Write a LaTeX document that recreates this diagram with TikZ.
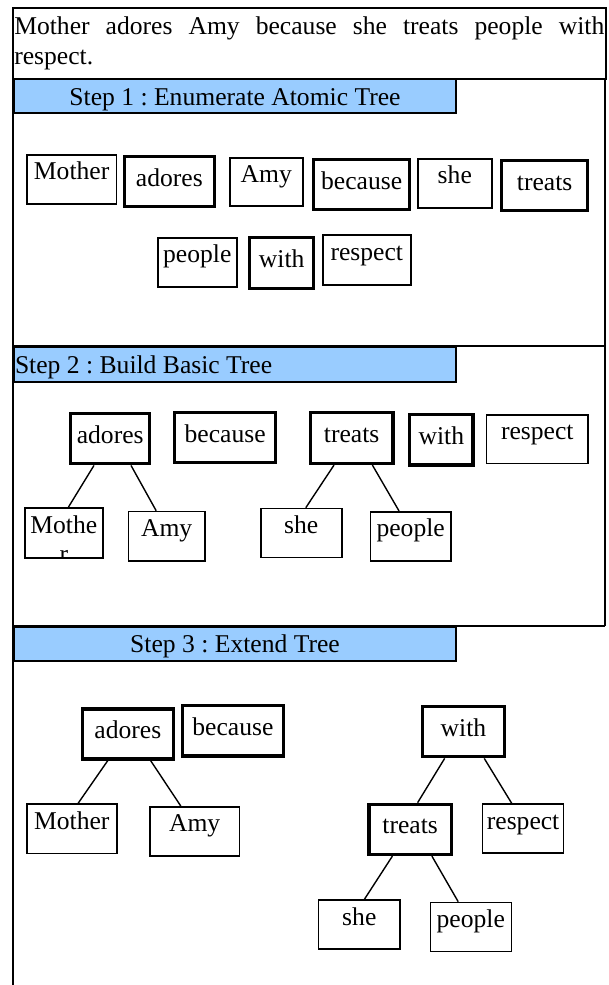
\documentclass[tikz,border=0pt]{standalone}
\usepackage{fontspec}
\setmainfont{Liberation Serif}
\definecolor{hdrblue}{RGB}{153,204,255}
\hyphenpenalty=10000
\tolerance=10000
\frenchspacing
\begin{document}
\begin{tikzpicture}[x=1pt,y=-1pt,
  font=\fontsize{25.6}{30}\selectfont,
  frame/.style={line width=1.6pt},
  hdr/.style={draw, line width=2pt, fill=hdrblue, anchor=north west, inner sep=0pt, text height=20pt, text depth=2pt},
  wbox/.style={draw, line width=1.6pt, anchor=north west, inner sep=0pt},
  tbox/.style={wbox, line width=3.4pt},
  mid/.style={text height=17pt, text depth=8pt},
  high/.style={text height=17pt, text depth=16pt},
  sz/.style 2 args={minimum width=#1pt, minimum height=#2pt},
  edge/.style={line width=1.4pt}]
\useasboundingbox (0,0) rectangle (608,985);

% sentence box
\node[draw, frame, anchor=north west, inner xsep=1.5pt, inner ysep=0pt,
      text width=590pt, align=justify, minimum height=71pt] (sent) at (12,7)
  {Mother adores Amy because she treats people with respect.};

% section frames
\draw[frame] (13,78) -- (13,985);
\draw[frame] (605,78) -- (605,626);
\draw[frame] (13,346) -- (605,346);
\draw[frame] (13,626) -- (605,626);

% step headers
\node[hdr, sz={442}{34}] (h1) at (13,78) {Step 1 : Enumerate Atomic Tree};
\node[hdr, sz={442}{35}] (h2) at (13,346) {\makebox[440pt][l]{Step 2 : Build Basic Tree}};
\node[hdr, sz={442}{34}, text height=19pt, text depth=3pt] (h3) at (13,626) {Step 3 : Extend Tree};

% ---- Step 1: atomic trees
\node[wbox, high, sz={89.7}{49}] (s1mother)  at (26,154)    {Mother};
\node[tbox, mid,  sz={90}{50}]   (s1adores)  at (122.7,155) {adores};
\node[wbox, high, sz={73}{48}]   (s1amy)     at (229,157)   {Amy};
\node[tbox, mid,  sz={96}{50}]   (s1because) at (312,158)   {because};
\node[wbox, high, sz={74}{49}]   (s1she)     at (417,158)   {she};
\node[tbox, mid,  sz={86}{50}]   (s1treats)  at (500,159)   {treats};
\node[wbox, high, sz={79}{49}]   (s1people)  at (157,237)   {people};
\node[tbox, mid,  sz={64}{51}]   (s1with)    at (248,236)   {with};
\node[wbox, high, sz={88}{50}]   (s1respect) at (322,234)   {respect};

% ---- Step 2: basic trees
\node[tbox, mid,  sz={79}{50}]     (s2adores)  at (69,412)    {adores};
\node[tbox, mid,  sz={101}{50}]    (s2because) at (173,411)   {because};
\node[wbox, high, sz={78}{50}]     (s2mother)  at (24,507)    {Mothe};
\begin{scope}
  \clip (s2mother.north west) rectangle (s2mother.south east);
  \node[anchor=base, inner sep=0pt] (s2motherr) at (64,562) {r};
\end{scope}
\node[wbox, high, sz={76.3}{49.3}] (s2amy)     at (127.7,510.7) {Amy};
\node[tbox, mid,  sz={82.6}{50.7}] (s2treats)  at (308.7,411) {treats};
\node[tbox, mid,  sz={63.3}{50.6}] (s2with)    at (408,412.7) {with};
\node[wbox, high, sz={101.6}{48.7}] (s2respect) at (485.7,414) {respect};
\node[wbox, high, sz={81}{49}]     (s2she)     at (260,507.7) {she};
\node[wbox, high, sz={80.3}{49}]   (s2people)  at (369.7,511) {people};

\draw[edge] ([xshift=-16.2pt]s2adores.south) -- ([xshift=4.7pt]s2mother.north);
\draw[edge] ([xshift=20.8pt]s2adores.south)  -- ([xshift=-10.5pt]s2amy.north);
\draw[edge] ([xshift=-17.7pt]s2treats.south) -- ([xshift=4.5pt]s2she.north);
\draw[edge] ([xshift=20.7pt]s2treats.south)  -- ([xshift=-11.6pt]s2people.north);

% ---- Step 3: extended trees
\node[tbox, mid,  sz={91}{50}]     (s3adores)  at (80.7,707.3) {adores};
\node[tbox, mid,  sz={101}{50.3}]  (s3because) at (180.7,704)  {because};
\node[wbox, high, sz={90}{49.4}]   (s3mother)  at (26,803.3)   {Mother};
\node[wbox, high, sz={89.7}{49}]   (s3amy)     at (149,806)    {Amy};
\node[tbox, mid,  sz={82.5}{50}]   (s3with)    at (420.5,705)  {with};
\node[tbox, mid,  sz={82.2}{50}]   (s3treats)  at (367.4,802.7) {treats};
\node[wbox, high, sz={81}{49}]     (s3respect) at (481.8,803.3) {respect};
\node[wbox, high, sz={81.4}{49}]   (s3she)     at (317.8,899.3) {she};
\node[wbox, high, sz={81}{49}]     (s3people)  at (429.5,901.7) {people};

\draw[edge] ([xshift=-20.2pt]s3adores.south) -- ([xshift=6.3pt]s3mother.north);
\draw[edge] ([xshift=22.8pt]s3adores.south)  -- ([xshift=-13.9pt]s3amy.north);
\draw[edge] ([xshift=-18.8pt]s3with.south)   -- ([xshift=7.4pt]s3treats.north);
\draw[edge] ([xshift=20.8pt]s3with.south)    -- ([xshift=-11.4pt]s3respect.north);
\draw[edge] ([xshift=-17.8pt]s3treats.south) -- ([xshift=5.1pt]s3she.north);
\draw[edge] ([xshift=21.7pt]s3treats.south)  -- ([xshift=-12.6pt]s3people.north);
\end{tikzpicture}
\end{document}
